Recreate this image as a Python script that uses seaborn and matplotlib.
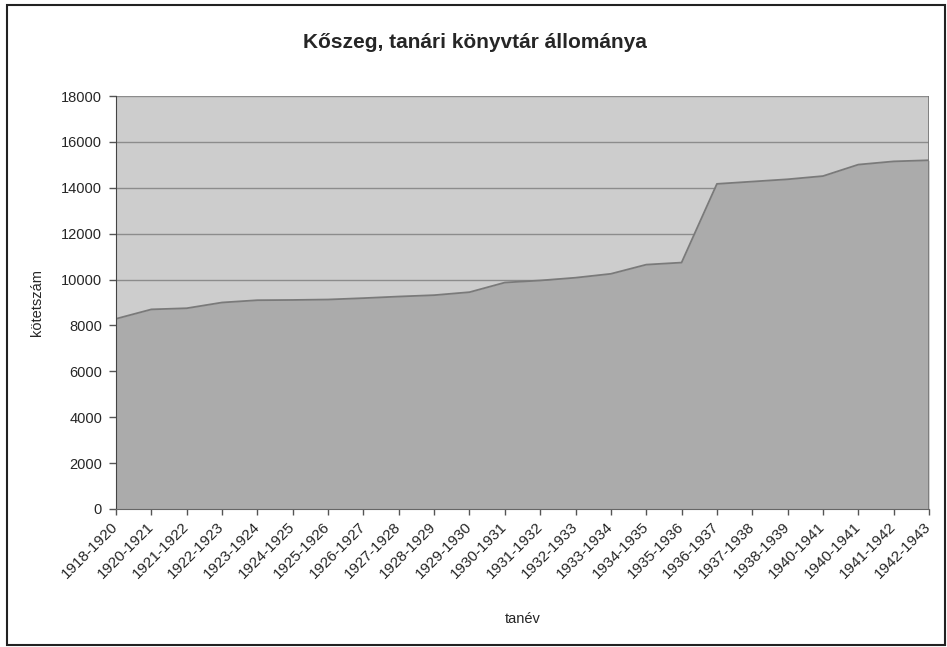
import seaborn as sns
import matplotlib.pyplot as plt
from matplotlib.patches import Rectangle
import numpy as np

# school years (tanév) - note 1940-1941 appears twice in the original
years = ['1918-1920', '1920-1921', '1921-1922', '1922-1923', '1923-1924',
         '1924-1925', '1925-1926', '1926-1927', '1927-1928', '1928-1929',
         '1929-1930', '1930-1931', '1931-1932', '1932-1933', '1933-1934',
         '1934-1935', '1935-1936', '1936-1937', '1937-1938', '1938-1939',
         '1940-1941', '1940-1941', '1941-1942', '1942-1943']
# number of volumes (kötetszám)
volumes = [8290, 8700, 8750, 9000, 9100, 9110, 9130, 9190, 9260, 9320,
           9450, 9870, 9960, 10080, 10250, 10650, 10740, 14170, 14270,
           14370, 14510, 15010, 15150, 15200]
yticks = list(range(0, 18001, 2000))

sns.set_style('white')
plt.rcParams['font.family'] = ['Liberation Sans', 'DejaVu Sans']

fig = plt.figure(figsize=(9.47, 6.47), dpi=100)
ax = fig.add_axes([116/947, 1-509/647, (929-116)/947, (509-96)/647])

xpos = np.arange(len(years))
ax.set_facecolor('#cdcdcd')
ax.fill_between(xpos, volumes, 0, color='#ababab', zorder=2, linewidth=0)
sns.lineplot(x=xpos, y=volumes, ax=ax, color='#7a7a7a', linewidth=1.3, zorder=3)
ax.plot([xpos[-1], xpos[-1]], [0, 18000], color='#7a7a7a', lw=1.3, zorder=3)

ax.set_xlim(0, len(years)-1)
ax.set_ylim(0, 18000)
ax.set_yticks(yticks)
ax.set_yticklabels([str(v) for v in yticks], fontsize=10.5)
ax.set_xticks(xpos)
ax.set_xticklabels(years, rotation=45, ha='right', va='center',
                   rotation_mode='anchor', fontsize=11)
ax.grid(axis='y', color='#8c8c8c', linewidth=1.0, zorder=1)
ax.set_axisbelow(True)

ax.tick_params(axis='y', which='both', left=True, length=5, width=1,
               color='#555555', pad=5)
ax.tick_params(axis='x', which='both', bottom=True, length=4, width=1,
               color='#555555', pad=7)
for s in ['top', 'right']:
    ax.spines[s].set_visible(False)
ax.spines['left'].set_color('#444444')
ax.spines['bottom'].set_color('#666666')
ax.spines['left'].set_zorder(4)
ax.spines['bottom'].set_zorder(4)

ax.set_xlabel('tanév', fontsize=10.5)
ax.set_ylabel('kötetszám', fontsize=10.5, labelpad=12)
ax.xaxis.set_label_coords(0.5, -0.25)

fig.text(475/947, 1-43/647, 'Kőszeg, tanári könyvtár állománya',
         ha='center', va='center', fontsize=15, fontweight='bold')

# outer frame of the chart
fig.patches.append(Rectangle((7/947, 1-645/647), (945-7)/947, (645-5)/647,
                             transform=fig.transFigure, fill=False,
                             edgecolor='#222222', linewidth=1.5))

fig.savefig('out.png', dpi=100)
